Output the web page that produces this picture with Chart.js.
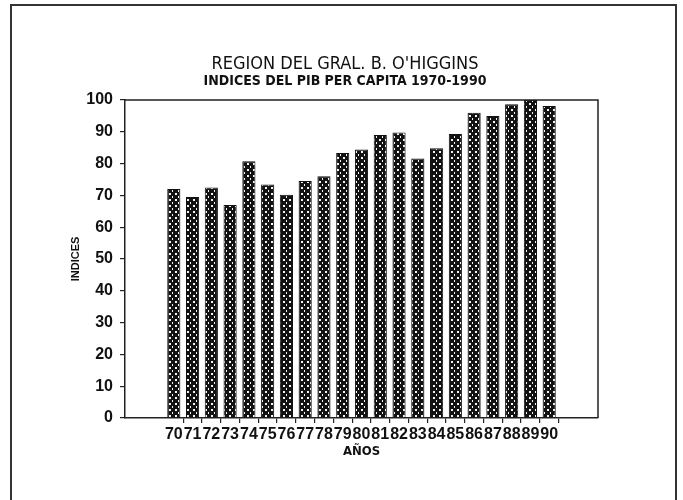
<!DOCTYPE html>
<html>
<head>
<meta charset="utf-8">
<script src="https://cdn.jsdelivr.net/npm/chart.js@4.4.1/dist/chart.umd.min.js"></script>
<style>
  html, body { margin: 0; padding: 0; background: #fff; }
</style>
</head>
<body>
<canvas id="chart" width="683" height="500"></canvas>
<script>
// Índices del PIB per cápita, Región del Gral. B. O'Higgins, 1970-1990
const years = [70, 71, 72, 73, 74, 75, 76, 77, 78, 79, 80, 81, 82, 83, 84, 85, 86, 87, 88, 89, 90];
const tickLabels = ['70', '71', '72', '73', '74', '75', '76', '77', '78', '79', '80',
                    '81', '82', '83', '84', '85', '86', '87', '88', '89', '90'];
const indices = [72, 69.5, 72.5, 67, 80.7, 73.4, 70.2, 74.5, 76, 83.3, 84.4,
                 89, 89.8, 81.6, 84.8, 89.3, 96, 95, 98.7, 100, 98.1];

const NARROW = '"Liberation Sans Narrow", "DejaVu Sans Condensed", sans-serif';
const SANS = '"Liberation Sans", Arial, sans-serif';
const INK = '#111';

// dark cross-hatch fill like the plotter pattern
function crossHatch() {
  const c = document.createElement('canvas');
  c.width = 6; c.height = 6;
  const g = c.getContext('2d');
  g.fillStyle = '#121212';
  g.fillRect(0, 0, 6, 6);
  g.fillStyle = '#f4f4f4';
  g.fillRect(1, 1, 2, 2);
  g.fillRect(4, 4, 1, 2);
  return g.createPattern(c, 'repeat');
}

// top/right edge of the plot box and the outer frame (bottom edge is off the page)
const framePlugin = {
  id: 'frame',
  afterDraw(chart) {
    const { ctx, chartArea: a } = chart;
    ctx.save();
    ctx.strokeStyle = '#222';
    ctx.lineWidth = 1.5;
    ctx.beginPath();
    ctx.moveTo(a.left, a.top);
    ctx.lineTo(a.right, a.top);
    ctx.lineTo(a.right, a.bottom);
    ctx.stroke();
    ctx.lineWidth = 2;
    ctx.strokeStyle = '#333';
    ctx.beginPath();
    ctx.moveTo(11, 500);
    ctx.lineTo(11, 5);
    ctx.lineTo(676, 5);
    ctx.lineTo(676, 500);
    ctx.stroke();
    ctx.restore();
  }
};

new Chart(document.getElementById('chart'), {
  type: 'bar',
  data: {
    datasets: [{
      data: years.map((yr, i) => ({ x: yr, y: indices[i] })),
      backgroundColor: crossHatch(),
      borderColor: INK,
      borderWidth: 1,
      categoryPercentage: 1,
      barPercentage: 0.7
    }]
  },
  options: {
    responsive: false,
    animation: false,
    devicePixelRatio: 1,
    layout: { padding: { left: 7, right: 0, top: 0, bottom: 22 } },
    plugins: {
      legend: { display: false },
      tooltip: { enabled: false },
      title: {
        display: true,
        text: "REGION DEL GRAL. B. O'HIGGINS",
        color: INK,
        font: { family: NARROW, size: 18, weight: 'normal', lineHeight: 1 },
        padding: { top: 55, bottom: 0 }
      },
      subtitle: {
        display: true,
        text: 'INDICES DEL PIB PER CAPITA 1970-1990',
        color: INK,
        font: { family: NARROW, size: 14, weight: 'bold', lineHeight: 1 },
        padding: { top: 1, bottom: 12 }
      }
    },
    scales: {
      x: {
        type: 'linear',
        min: 67.4,
        max: 92.6,
        offset: false,
        afterBuildTicks: s => { s.ticks = years.map(v => ({ value: v })); },
        afterFit: s => { s.height = 60; },
        ticks: {
          autoSkip: false,
          maxRotation: 0,
          padding: 2,
          color: INK,
          font: { family: SANS, size: 16, weight: 'bold' },
          callback: v => tickLabels[years.indexOf(v)]
        },
        grid: {
          drawOnChartArea: false,
          offset: true,
          tickLength: 5,
          lineWidth: 1.2,
          color: c => (c.index === 0 || c.index === years.length) ? 'rgba(0,0,0,0)' : '#222'
        },
        border: { color: '#222', width: 1.5 },
        title: {
          display: true,
          text: 'AÑOS',
          color: INK,
          font: { family: NARROW, size: 13, weight: 'bold', lineHeight: 1.2 },
          padding: { top: 0, bottom: 19 }
        }
      },
      y: {
        min: 0,
        max: 100,
        afterFit: s => { s.width = 118; },
        ticks: {
          stepSize: 10,
          padding: 7,
          color: INK,
          font: { family: SANS, size: 16, weight: 'bold' }
        },
        grid: { drawOnChartArea: false, tickLength: 5, lineWidth: 1.2, color: '#222' },
        border: { color: '#222', width: 1.5 },
        title: {
          display: true,
          text: 'INDICES',
          color: INK,
          font: { family: SANS, size: 11, weight: 'bold', lineHeight: 1.2 },
          padding: { top: 62, bottom: 0 }
        }
      },
      y2: {
        type: 'linear',
        position: 'right',
        afterFit: s => { s.width = 85; },
        grid: { display: false },
        ticks: { display: false },
        border: { display: false }
      }
    }
  },
  plugins: [framePlugin]
});
</script>
</body>
</html>
